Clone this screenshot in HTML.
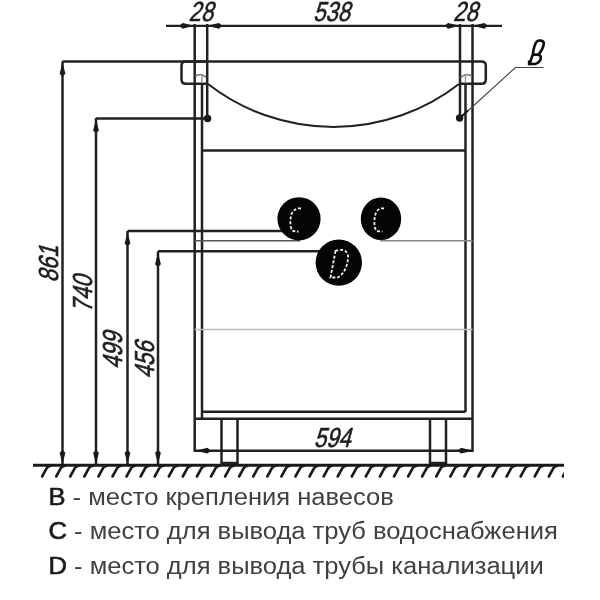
<!DOCTYPE html>
<html><head><meta charset="utf-8">
<style>
html,body{margin:0;padding:0;background:#fff;}
body{width:600px;height:600px;overflow:hidden;position:relative;}
svg{position:absolute;left:0;top:0;will-change:transform;}
.lg{position:absolute;left:0;top:0;font-family:"Liberation Sans",sans-serif;font-size:23px;color:#404040;white-space:nowrap;transform-origin:0 0;will-change:transform;}
.cap{color:#1a1a1a;-webkit-text-stroke:0.6px #1a1a1a;}
</style></head><body>
<svg width="600" height="600" viewBox="0 0 600 600">
<g stroke="#222" stroke-width="2.5" fill="none">
  <line x1="166" y1="25.8" x2="502" y2="25.8" stroke-width="2.2"/>
  <line x1="194.7" y1="24" x2="194.7" y2="452"/>
  <line x1="207.2" y1="24" x2="207.2" y2="118"/>
  <line x1="460" y1="24" x2="460" y2="118"/>
  <line x1="472.5" y1="24" x2="472.5" y2="452"/>
  <line x1="202" y1="83" x2="202" y2="419"/>
  <line x1="465.5" y1="83" x2="465.5" y2="412"/>
  <path d="M62.5 61.5 H481.5 Q485.8 61.5 485.8 65.8 V79.4 Q485.8 83.7 481.5 83.7 H459"/>
  <path d="M207 61.5 H185.8 Q181.5 61.5 181.5 65.8 V79.4 Q181.5 83.7 185.8 83.7 H207"/>
  <path d="M208 84 A204.6 204.6 0 0 0 459 84" stroke-width="2.1"/>
  <line x1="202" y1="150.6" x2="465.5" y2="150.6"/>
  <line x1="202" y1="411.7" x2="465.5" y2="411.7"/>
  <line x1="194.7" y1="418.7" x2="472.5" y2="418.7"/>
  <path d="M221.5 418.7 V463 H237.5 V418.7"/>
  <path d="M430 418.7 V463 H446 V418.7"/>
  <line x1="194.7" y1="450.7" x2="472.5" y2="450.7"/>
  <line x1="62.5" y1="61.5" x2="62.5" y2="465"/>
  <line x1="96" y1="118" x2="96" y2="465"/>
  <line x1="127.5" y1="231" x2="127.5" y2="465"/>
  <line x1="158" y1="251.3" x2="158" y2="465"/>
  <line x1="96" y1="118.4" x2="207" y2="118.4"/>
  <line x1="127.5" y1="231" x2="290" y2="231"/>
  <line x1="158" y1="251.3" x2="325" y2="251.3"/>
</g>
<g fill="none" stroke-width="1.5">
  <line x1="194.7" y1="240.8" x2="300" y2="240.8" stroke="#555"/>
  <line x1="380" y1="240.8" x2="472.5" y2="240.8" stroke="#8a8a8a"/>
  <line x1="194.7" y1="329.5" x2="472.5" y2="329.5" stroke="#bbb"/>
  <path d="M195.5 76 Q198.5 74.3 201.5 74.8 Q204.5 75.5 206.3 77.8" stroke="#777" stroke-width="1.5"/><line x1="202" y1="76" x2="202" y2="83" stroke="#999" stroke-width="1.5"/>
  <path d="M460.5 77.8 Q462.5 75.5 465.5 74.8 Q468.5 74.3 472 76" stroke="#777" stroke-width="1.5"/><line x1="465.5" y1="76" x2="465.5" y2="83" stroke="#999" stroke-width="1.5"/>
  <path d="M460 118 L515.5 67.5 H543.5" stroke="#444" stroke-width="1.1"/><path d="M461 117 L468 110.5" stroke="#1a1a1a" stroke-width="2"/>
</g>
<line x1="33" y1="465.3" x2="564" y2="465.3" stroke="#1a1a1a" stroke-width="3.1"/>
<defs><clipPath id="gc"><rect x="0" y="440" width="564" height="60"/></clipPath></defs><g stroke="#1a1a1a" stroke-width="2.6" fill="none" stroke-linecap="round" clip-path="url(#gc)"><path d="M42.1 476.5 L46.7 468.2 Q47.7 466.3 50.6 465.8"/><path d="M56.2 476.5 L60.8 468.2 Q61.8 466.3 64.7 465.8"/><path d="M70.2 476.5 L74.8 468.2 Q75.8 466.3 78.8 465.8"/><path d="M84.3 476.5 L88.9 468.2 Q89.9 466.3 92.8 465.8"/><path d="M98.4 476.5 L103.0 468.2 Q104.0 466.3 106.9 465.8"/><path d="M112.5 476.5 L117.1 468.2 Q118.1 466.3 121.0 465.8"/><path d="M126.5 476.5 L131.1 468.2 Q132.1 466.3 135.0 465.8"/><path d="M140.6 476.5 L145.2 468.2 Q146.2 466.3 149.1 465.8"/><path d="M154.7 476.5 L159.3 468.2 Q160.3 466.3 163.2 465.8"/><path d="M168.8 476.5 L173.4 468.2 Q174.4 466.3 177.3 465.8"/><path d="M182.8 476.5 L187.4 468.2 Q188.4 466.3 191.3 465.8"/><path d="M196.9 476.5 L201.5 468.2 Q202.5 466.3 205.4 465.8"/><path d="M211.0 476.5 L215.6 468.2 Q216.6 466.3 219.5 465.8"/><path d="M225.1 476.5 L229.7 468.2 Q230.7 466.3 233.6 465.8"/><path d="M239.1 476.5 L243.7 468.2 Q244.7 466.3 247.6 465.8"/><path d="M253.2 476.5 L257.8 468.2 Q258.8 466.3 261.7 465.8"/><path d="M267.3 476.5 L271.9 468.2 Q272.9 466.3 275.8 465.8"/><path d="M281.4 476.5 L286.0 468.2 Q287.0 466.3 289.9 465.8"/><path d="M295.4 476.5 L300.1 468.2 Q301.1 466.3 303.9 465.8"/><path d="M309.5 476.5 L314.1 468.2 Q315.1 466.3 318.0 465.8"/><path d="M323.6 476.5 L328.2 468.2 Q329.2 466.3 332.1 465.8"/><path d="M337.7 476.5 L342.3 468.2 Q343.3 466.3 346.2 465.8"/><path d="M351.8 476.5 L356.4 468.2 Q357.4 466.3 360.2 465.8"/><path d="M365.8 476.5 L370.4 468.2 Q371.4 466.3 374.3 465.8"/><path d="M379.9 476.5 L384.5 468.2 Q385.5 466.3 388.4 465.8"/><path d="M394.0 476.5 L398.6 468.2 Q399.6 466.3 402.5 465.8"/><path d="M408.1 476.5 L412.7 468.2 Q413.7 466.3 416.6 465.8"/><path d="M422.1 476.5 L426.7 468.2 Q427.7 466.3 430.6 465.8"/><path d="M436.2 476.5 L440.8 468.2 Q441.8 466.3 444.7 465.8"/><path d="M450.3 476.5 L454.9 468.2 Q455.9 466.3 458.8 465.8"/><path d="M464.4 476.5 L469.0 468.2 Q470.0 466.3 472.9 465.8"/><path d="M478.4 476.5 L483.0 468.2 Q484.0 466.3 486.9 465.8"/><path d="M492.5 476.5 L497.1 468.2 Q498.1 466.3 501.0 465.8"/><path d="M506.6 476.5 L511.2 468.2 Q512.2 466.3 515.1 465.8"/><path d="M520.6 476.5 L525.2 468.2 Q526.2 466.3 529.1 465.8"/><path d="M534.7 476.5 L539.3 468.2 Q540.3 466.3 543.2 465.8"/><path d="M548.8 476.5 L553.4 468.2 Q554.4 466.3 557.3 465.8"/><path d="M562.9 476.5 L567.5 468.2 Q568.5 466.3 571.4 465.8"/></g>
<g fill="#1a1a1a">
  <path d="M194.5 25.8 L182.5 22.900000000000002 L179.2 25.8 L182.5 28.7Z"/><path d="M207 25.8 L219 22.900000000000002 L222.3 25.8 L219 28.7Z"/><path d="M460 25.8 L448 22.900000000000002 L444.7 25.8 L448 28.7Z"/><path d="M472.5 25.8 L484.5 22.900000000000002 L487.8 25.8 L484.5 28.7Z"/><path d="M195.5 450.7 L207.5 447.8 L210.8 450.7 L207.5 453.59999999999997Z"/><path d="M473 450.7 L461 447.8 L457.7 450.7 L461 453.59999999999997Z"/><path d="M62.5 62.5 L59.6 73.8 L62.5 76.5 L65.4 73.8Z"/><path d="M62.5 464 L59.6 452.7 L62.5 450 L65.4 452.7Z"/><path d="M96 119.3 L93.1 130.6 L96 133.3 L98.9 130.6Z"/><path d="M96 464 L93.1 452.7 L96 450 L98.9 452.7Z"/><path d="M127.5 232.3 L124.6 243.60000000000002 L127.5 246.3 L130.4 243.60000000000002Z"/><path d="M127.5 464 L124.6 452.7 L127.5 450 L130.4 452.7Z"/><path d="M158 252.9 L155.1 264.2 L158 266.9 L160.9 264.2Z"/><path d="M158 464 L155.1 452.7 L158 450 L160.9 452.7Z"/>
  <circle cx="207.6" cy="118.5" r="3.7"/>
  <circle cx="459.6" cy="118" r="3.7"/>
</g>
<g fill="#050505">
  <circle cx="299" cy="218.8" r="21.6"/>
  <ellipse cx="381" cy="218.8" rx="20.2" ry="21.3"/>
  <circle cx="338.8" cy="262.6" r="23.2"/>
</g>
<g font-family="Liberation Sans" font-size="27.5" fill="#1e1e1e" stroke="#1e1e1e" stroke-width="0.65">
  <text transform="translate(188.5,21) skewX(-15) scale(0.8,1)">28</text>
  <text transform="translate(313,21.3) skewX(-15) scale(0.8,1)">538</text>
  <text transform="translate(453,21) skewX(-15) scale(0.8,1)">28</text>
  <text transform="translate(313.8,446.5) skewX(-15) scale(0.8,1)">594</text>
  <text transform="translate(57.8,282.5) rotate(-90) skewX(-15) scale(0.8,1)">861</text>
  <text transform="translate(92.2,312.5) rotate(-90) skewX(-15) scale(0.8,1)">740</text>
  <text transform="translate(122,369) rotate(-90) skewX(-15) scale(0.8,1)">499</text>
  <text transform="translate(154,378.5) rotate(-90) skewX(-15) scale(0.8,1)">456</text>
</g>
<path d="M532.8 54.6 C 533.5 49, 534.5 44, 536.8 41.6 C 539 39.8, 543.5 40.3, 543.8 43 C 544 46.5, 541 52, 538.3 54.6 Z M532.8 54.6 C 531.5 58, 530.5 61, 529.5 64 L 535 64 C 538.5 63.5, 541.2 60, 540.8 57 C 540.5 55.5, 539.5 54.8, 538.3 54.6 Z" fill="none" stroke="#0d0d0d" stroke-width="2.6" stroke-linejoin="round"/><path d="M527.8 60.5 L531.5 60.5 L530.5 65.3 L527.8 65.3Z" fill="#0d0d0d"/>
<g fill="none" stroke="#f0f0f0" stroke-width="1.8" stroke-dasharray="3 1.8">
  <path d="M301 208.5 C 296 207.5, 292 211, 291 216 C 290 221, 290 228, 292.5 230.5 C 294 231.5, 296 231.5, 298.5 231.5"/>
  <path d="M384 208.5 C 379 207.5, 376 211, 375 216 C 374 221, 374 228, 376.5 230.5 C 378 231.5, 380 231.5, 382.5 231.5"/>
  <path d="M335.5 251 L330.5 277.5 L337.5 277.5 C 343 275, 347.5 267, 348 258 C 348.5 252, 345 249.5, 339 250 Z"/>
</g>
</svg>
<div class="lg" id="l1" style="transform:translate(48.5px,483.5px) scaleX(1.11)"><span class="cap">B</span> - место крепления навесов</div>
<div class="lg" id="l2" style="transform:translate(48.5px,517.5px) scaleX(1.11)"><span class="cap">C</span> - место для вывода труб водоснабжения</div>
<div class="lg" id="l3" style="transform:translate(48.5px,552.5px) scaleX(1.11)"><span class="cap">D</span> - место для вывода трубы канализации</div>
</body></html>
